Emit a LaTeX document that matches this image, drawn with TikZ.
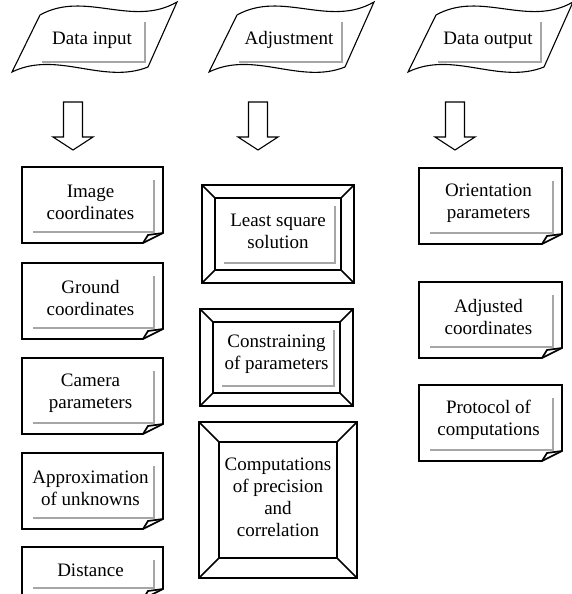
\documentclass[tikz,border=0pt]{standalone}
\usepackage{fontspec}
\setmainfont{Liberation Serif}
\usepackage{tikz}
\usetikzlibrary{calc}

\begin{document}
\begin{tikzpicture}[
  x=1pt, y=-1pt,
  boxline/.style={line width=1.7pt, line join=miter},
  tapeline/.style={line width=1.1pt},
  backline/.style={line width=1.3pt, draw=black!35},
  boxtext/.style={align=center, inner sep=0pt, font=\fontsize{19}{22}\selectfont}
]
\useasboundingbox (0,0) rectangle (571,594);

% --- Wavy data shape: name, x offset, text ---
\newcommand{\DataTape}[3]{%
  % back edges
  \draw[backline] (#2+30,62) -- (#2+133,62) -- (#2+133,22);
  % wavy parallelogram
  \draw[tapeline] (#2+28,15) .. controls (#2+73,-10) and (#2+120,28) .. (#2+165,2)
    -- (#2+136,67) .. controls (#2+91,85) and (#2+45,50) .. (#2,72) -- cycle;
  \node[boxtext] (#1) at (#2+80,40) {#3};
}

% --- Note with folded corner: name, x, y, width, height, text ---
\newcommand{\NoteBox}[6]{%
  % back edges
  \draw[backline] (#2+11,#3+#5-11) -- (#2+#4-9,#3+#5-11) -- (#2+#4-9,#3+13);
  % outline and fold
  \draw[boxline] (#2,#3) -- (#2+#4,#3) -- (#2+#4,#3+#5-10) -- (#2+#4-20,#3+#5)
    -- (#2,#3+#5) -- cycle;
  \draw[boxline] (#2+#4,#3+#5-10) -- (#2+#4-15,#3+#5-8) -- (#2+#4-20,#3+#5);
  \node[boxtext] (#1) at (#2+#4/2-2,#3+#5/2-3) {#6};
}

% --- Bevelled frame: name, x, y, width, height, margin, back style, text ---
\newcommand{\FrameBox}[8]{%
  % back edges
  \draw[#7] (#2+#6+9,#3+#5-#6-7) -- (#2+#4-#6-6,#3+#5-#6-7) -- (#2+#4-#6-6,#3+#6+8);
  % outer and inner rectangles
  \draw[boxline] (#2,#3) rectangle ++(#4,#5);
  \draw[boxline] (#2+#6,#3+#6) rectangle (#2+#4-#6,#3+#5-#6);
  % bevel corners
  \draw[boxline] (#2,#3) -- ++(#6,#6);
  \draw[boxline] (#2+#4,#3) -- ++(-#6,#6);
  \draw[boxline] (#2,#3+#5) -- ++(#6,-#6);
  \draw[boxline] (#2+#4,#3+#5) -- ++(-#6,-#6);
  \node[boxtext] (#1) at (#2+#4/2,#3+#5/2-3) {#8};
}

% --- Hollow down arrow: x centre ---
\newcommand{\BlockArrow}[1]{%
  \draw[tapeline] (#1-9.5,102) -- (#1+9.5,102) -- (#1+9.5,137) -- (#1+20,137)
    -- (#1,150) -- (#1-20,137) -- (#1-9.5,137) -- cycle;
}

% --- Column heads ---
\DataTape{din}{12}{Data input}
\DataTape{adj}{209}{Adjustment}
\DataTape{dout}{408}{Data output}

\BlockArrow{73}
\BlockArrow{258}
\BlockArrow{455}

% --- Input column ---
\NoteBox{img}{22}{167}{141}{76}{Image\\coordinates}
\NoteBox{gnd}{22}{263}{141}{76}{Ground\\coordinates}
\NoteBox{cam}{22}{358}{141}{76}{Camera\\parameters}
\NoteBox{apx}{22}{453}{141}{76}{Approximation\\of unknowns}
\NoteBox{dist}{22}{547}{141}{52}{Distance}

% --- Adjustment column ---
\FrameBox{lsq}{202}{185}{152}{98}{13}{backline}{Least square\\solution}
\FrameBox{con}{200}{309}{153}{97}{13}{backline}{Constraining\\of parameters}
\FrameBox{prc}{199}{422}{158}{156}{20}{draw=none}{Computations\\of precision\\and\\correlation}

% --- Output column ---
\NoteBox{ori}{419}{168}{143}{76}{Orientation\\parameters}
\NoteBox{adc}{419}{282}{143}{76}{Adjusted\\coordinates}
\NoteBox{pro}{419}{385}{143}{76}{Protocol of\\computations}

\end{tikzpicture}
\end{document}
